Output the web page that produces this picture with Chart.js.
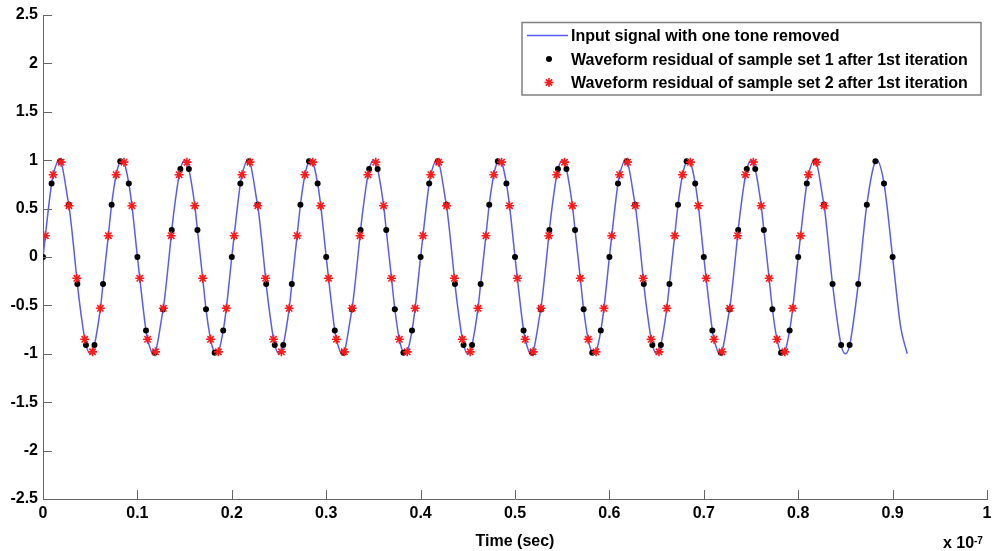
<!DOCTYPE html>
<html>
<head>
<meta charset="utf-8">
<script src="https://cdn.jsdelivr.net/npm/chart.js@4.4.1/dist/chart.umd.min.js"></script>
<style>
  html, body { margin: 0; padding: 0; background: #fff; }
  #wrap { width: 997px; height: 551px; }
</style>
</head>
<body>
<div id="wrap"><canvas id="residualChart" width="997" height="551"></canvas></div>
<script>
// time axis is in units of 1e-7 s (the "x 10^-7" note under the axis)
const xTickValues = [0, 0.1, 0.2, 0.3, 0.4, 0.5, 0.6, 0.7, 0.8, 0.9, 1];
const yTickValues = [-2.5, -2, -1.5, -1, -0.5, 0, 0.5, 1, 1.5, 2, 2.5];

// sample set 1 (black dots)
const set1Time = [
  0.0000, 0.0091, 0.0182, 0.0273, 0.0364, 0.0455, 0.0545, 0.0636, 0.0727, 0.0818, 0.0909,
  0.1000, 0.1091, 0.1182, 0.1273, 0.1364, 0.1455, 0.1545, 0.1636, 0.1727, 0.1818, 0.1909,
  0.2000, 0.2091, 0.2182, 0.2273, 0.2364, 0.2455, 0.2545, 0.2636, 0.2727, 0.2818, 0.2909,
  0.3000, 0.3091, 0.3182, 0.3273, 0.3364, 0.3455, 0.3545, 0.3636, 0.3727, 0.3818, 0.3909,
  0.4000, 0.4091, 0.4182, 0.4273, 0.4364, 0.4455, 0.4545, 0.4636, 0.4727, 0.4818, 0.4909,
  0.5000, 0.5091, 0.5182, 0.5273, 0.5364, 0.5455, 0.5545, 0.5636, 0.5727, 0.5818, 0.5909,
  0.6000, 0.6091, 0.6182, 0.6273, 0.6364, 0.6455, 0.6545, 0.6636, 0.6727, 0.6818, 0.6909,
  0.7000, 0.7091, 0.7182, 0.7273, 0.7364, 0.7455, 0.7545, 0.7636, 0.7727, 0.7818, 0.7909,
  0.8000, 0.8091, 0.8182, 0.8273, 0.8364, 0.8455, 0.8545, 0.8636, 0.8727, 0.8818, 0.8909,
  0.9000
];
const set1Value = [
  0, 0.76, 0.99, 0.54, -0.28, -0.91, -0.91, -0.28, 0.54, 0.99, 0.76,
  0, -0.76, -0.99, -0.54, 0.28, 0.91, 0.91, 0.28, -0.54, -0.99, -0.76,
  0, 0.76, 0.99, 0.54, -0.28, -0.91, -0.91, -0.28, 0.54, 0.99, 0.76,
  0, -0.76, -0.99, -0.54, 0.28, 0.91, 0.91, 0.28, -0.54, -0.99, -0.76,
  0, 0.76, 0.99, 0.54, -0.28, -0.91, -0.91, -0.28, 0.54, 0.99, 0.76,
  0, -0.76, -0.99, -0.54, 0.28, 0.91, 0.91, 0.28, -0.54, -0.99, -0.76,
  0, 0.76, 0.99, 0.54, -0.28, -0.91, -0.91, -0.28, 0.54, 0.99, 0.76,
  0, -0.76, -0.99, -0.54, 0.28, 0.91, 0.91, 0.28, -0.54, -0.99, -0.76,
  0, 0.76, 0.99, 0.54, -0.28, -0.91, -0.91, -0.28, 0.54, 0.99, 0.76,
  0
];

// sample set 2 (red stars)
const set2Time = [
  0.0025, 0.0108, 0.0192, 0.0275, 0.0358, 0.0442, 0.0525, 0.0608, 0.0692, 0.0775, 0.0858, 0.0942,
  0.1025, 0.1108, 0.1192, 0.1275, 0.1358, 0.1442, 0.1525, 0.1608, 0.1692, 0.1775, 0.1858, 0.1942,
  0.2025, 0.2108, 0.2192, 0.2275, 0.2358, 0.2442, 0.2525, 0.2608, 0.2692, 0.2775, 0.2858, 0.2942,
  0.3025, 0.3108, 0.3192, 0.3275, 0.3358, 0.3442, 0.3525, 0.3608, 0.3692, 0.3775, 0.3858, 0.3942,
  0.4025, 0.4108, 0.4192, 0.4275, 0.4358, 0.4442, 0.4525, 0.4608, 0.4692, 0.4775, 0.4858, 0.4942,
  0.5025, 0.5108, 0.5192, 0.5275, 0.5358, 0.5442, 0.5525, 0.5608, 0.5692, 0.5775, 0.5858, 0.5942,
  0.6025, 0.6108, 0.6192, 0.6275, 0.6358, 0.6442, 0.6525, 0.6608, 0.6692, 0.6775, 0.6858, 0.6942,
  0.7025, 0.7108, 0.7192, 0.7275, 0.7358, 0.7442, 0.7525, 0.7608, 0.7692, 0.7775, 0.7858, 0.7942,
  0.8025, 0.8108, 0.8192, 0.8275
];
const set2Value = [
  0.22, 0.85, 0.98, 0.53, -0.22, -0.85, -0.98, -0.53, 0.22, 0.85, 0.98, 0.53,
  -0.22, -0.85, -0.98, -0.53, 0.22, 0.85, 0.98, 0.53, -0.22, -0.85, -0.98, -0.53,
  0.22, 0.85, 0.98, 0.53, -0.22, -0.85, -0.98, -0.53, 0.22, 0.85, 0.98, 0.53,
  -0.22, -0.85, -0.98, -0.53, 0.22, 0.85, 0.98, 0.53, -0.22, -0.85, -0.98, -0.53,
  0.22, 0.85, 0.98, 0.53, -0.22, -0.85, -0.98, -0.53, 0.22, 0.85, 0.98, 0.53,
  -0.22, -0.85, -0.98, -0.53, 0.22, 0.85, 0.98, 0.53, -0.22, -0.85, -0.98, -0.53,
  0.22, 0.85, 0.98, 0.53, -0.22, -0.85, -0.98, -0.53, 0.22, 0.85, 0.98, 0.53,
  -0.22, -0.85, -0.98, -0.53, 0.22, 0.85, 0.98, 0.53, -0.22, -0.85, -0.98, -0.53,
  0.22, 0.85, 0.98, 0.53
];

// crests and troughs of the blue input signal, plus its last stretch
const peakTime = [0.0167, 0.0833, 0.1500, 0.2167, 0.2833, 0.3500, 0.4167,
                  0.4833, 0.5500, 0.6167, 0.6833, 0.7500, 0.8167, 0.8833];
const troughTime = [0.0500, 0.1167, 0.1833, 0.2500, 0.3167, 0.3833, 0.4500,
                    0.5167, 0.5833, 0.6500, 0.7167, 0.7833, 0.8500, 0.9155];
const tailTime = [0.9085];
const tailValue = [-0.72];

const labels = [
  'Input signal with one tone removed',
  'Waveform residual of sample set 1 after 1st iteration',
  'Waveform residual of sample set 2 after 1st iteration'
];

const toPoints = (xs, ys) => xs.map((t, i) => ({ x: t, y: ys[i] }));

const set1Points = toPoints(set1Time, set1Value);
const set2Points = toPoints(set2Time, set2Value);
const signalPoints = set1Points
  .concat(set2Points)
  .concat(peakTime.map(t => ({ x: t, y: 1 })))
  .concat(troughTime.map(t => ({ x: t, y: -1 })))
  .concat(toPoints(tailTime, tailValue))
  .sort((a, b) => a.x - b.x);

const FAMILY = '"Liberation Sans", Arial, sans-serif';
const LINE_BLUE = '#5a5af8';
const STAR_RED = '#ff1a1a';

function drawStar(ctx, x, y, r) {
  const d = r * Math.SQRT1_2;
  ctx.beginPath();
  ctx.moveTo(x - r, y); ctx.lineTo(x + r, y);
  ctx.moveTo(x, y - r); ctx.lineTo(x, y + r);
  ctx.moveTo(x - d, y - d); ctx.lineTo(x + d, y + d);
  ctx.moveTo(x - d, y + d); ctx.lineTo(x + d, y - d);
  ctx.stroke();
}

// matlab style ticks pointing into the plot
const inwardTicks = {
  id: 'inwardTicks',
  afterDraw(chart) {
    const { ctx, chartArea: a, scales: { x, y } } = chart;
    ctx.save();
    ctx.strokeStyle = '#666';
    ctx.lineWidth = 1;
    ctx.beginPath();
    x.ticks.forEach(t => {
      const px = Math.round(x.getPixelForValue(t.value)) + 0.5;
      ctx.moveTo(px, a.bottom);
      ctx.lineTo(px, a.bottom - 9);
    });
    y.ticks.forEach(t => {
      const py = Math.round(y.getPixelForValue(t.value)) + 0.5;
      ctx.moveTo(a.left, py);
      ctx.lineTo(a.left + 9, py);
    });
    ctx.stroke();

    // exponent note under the right end of the x axis
    ctx.fillStyle = '#000';
    ctx.textBaseline = 'alphabetic';
    ctx.textAlign = 'left';
    ctx.font = 'bold 16px ' + FAMILY;
    ctx.fillText('x 10', a.right - 44, 548);
    ctx.font = 'bold 10px ' + FAMILY;
    ctx.fillText('-7', a.right - 13, 544);
    ctx.restore();
  }
};

// boxed legend in the upper right corner of the axes
const boxLegend = {
  id: 'boxLegend',
  afterDraw(chart) {
    const { ctx, chartArea: a } = chart;
    const left = a.right - 465, top = a.top + 7.5, w = 459, h = 72.5;
    const rows = [top + 13, top + 36.5, top + 60];
    ctx.save();
    ctx.fillStyle = '#fff';
    ctx.fillRect(left, top, w, h);
    ctx.strokeStyle = '#808080';
    ctx.lineWidth = 1.5;
    ctx.strokeRect(left, top, w, h);

    ctx.strokeStyle = LINE_BLUE;
    ctx.lineWidth = 1.5;
    ctx.beginPath();
    ctx.moveTo(left + 5, rows[0]);
    ctx.lineTo(left + 46, rows[0]);
    ctx.stroke();

    ctx.fillStyle = '#000';
    ctx.beginPath();
    ctx.arc(left + 27, rows[1], 3, 0, Math.PI * 2);
    ctx.fill();

    ctx.strokeStyle = STAR_RED;
    ctx.lineWidth = 1.6;
    drawStar(ctx, left + 27, rows[2], 4.5);

    ctx.fillStyle = '#000';
    ctx.font = 'bold 16px ' + FAMILY;
    ctx.textBaseline = 'alphabetic';
    ctx.textAlign = 'left';
    labels.forEach((txt, i) => ctx.fillText(txt, left + 49, rows[i] + 5.5));
    ctx.restore();
  }
};

new Chart(document.getElementById('residualChart'), {
  type: 'line',
  data: {
    datasets: [
      {
        label: labels[0],
        data: signalPoints,
        borderColor: LINE_BLUE,
        borderWidth: 1.5,
        pointRadius: 0,
        fill: false,
        cubicInterpolationMode: 'monotone',
        order: 3
      },
      {
        label: labels[1],
        data: set1Points,
        showLine: false,
        pointStyle: 'circle',
        pointRadius: 3,
        pointBackgroundColor: '#000',
        pointBorderColor: '#000',
        pointBorderWidth: 0,
        order: 2
      },
      {
        label: labels[2],
        data: set2Points,
        showLine: false,
        pointStyle: 'star',
        pointRadius: 4.5,
        pointBorderColor: STAR_RED,
        pointBackgroundColor: STAR_RED,
        pointBorderWidth: 1.6,
        order: 1
      }
    ]
  },
  options: {
    responsive: false,
    animation: false,
    devicePixelRatio: 1,
    layout: { padding: { top: 15, right: 10, left: 0, bottom: 0 } },
    plugins: {
      legend: { display: false },
      tooltip: { enabled: false }
    },
    scales: {
      x: {
        type: 'linear',
        min: 0,
        max: 1,
        afterBuildTicks: s => { s.ticks = xTickValues.map(v => ({ value: v })); },
        afterFit: s => { s.height = 52; },
        grid: { display: false, drawTicks: false },
        border: { display: true, color: '#666', width: 1 },
        ticks: {
          color: '#000',
          padding: 5,
          maxRotation: 0,
          font: { family: FAMILY, size: 16, weight: 'bold' },
          callback: v => String(v)
        },
        title: {
          display: true,
          text: 'Time (sec)',
          color: '#000',
          padding: { top: 0, bottom: 0 },
          font: { family: FAMILY, size: 16, weight: 'bold' }
        }
      },
      y: {
        type: 'linear',
        min: -2.5,
        max: 2.5,
        afterBuildTicks: s => { s.ticks = yTickValues.map(v => ({ value: v })); },
        afterFit: s => { s.width = 43; },
        grid: { display: false, drawTicks: false },
        border: { display: true, color: '#666', width: 1 },
        ticks: {
          color: '#000',
          padding: 5,
          font: { family: FAMILY, size: 16, weight: 'bold' },
          callback: v => String(v)
        }
      }
    }
  },
  plugins: [inwardTicks, boxLegend]
});
</script>
</body>
</html>
